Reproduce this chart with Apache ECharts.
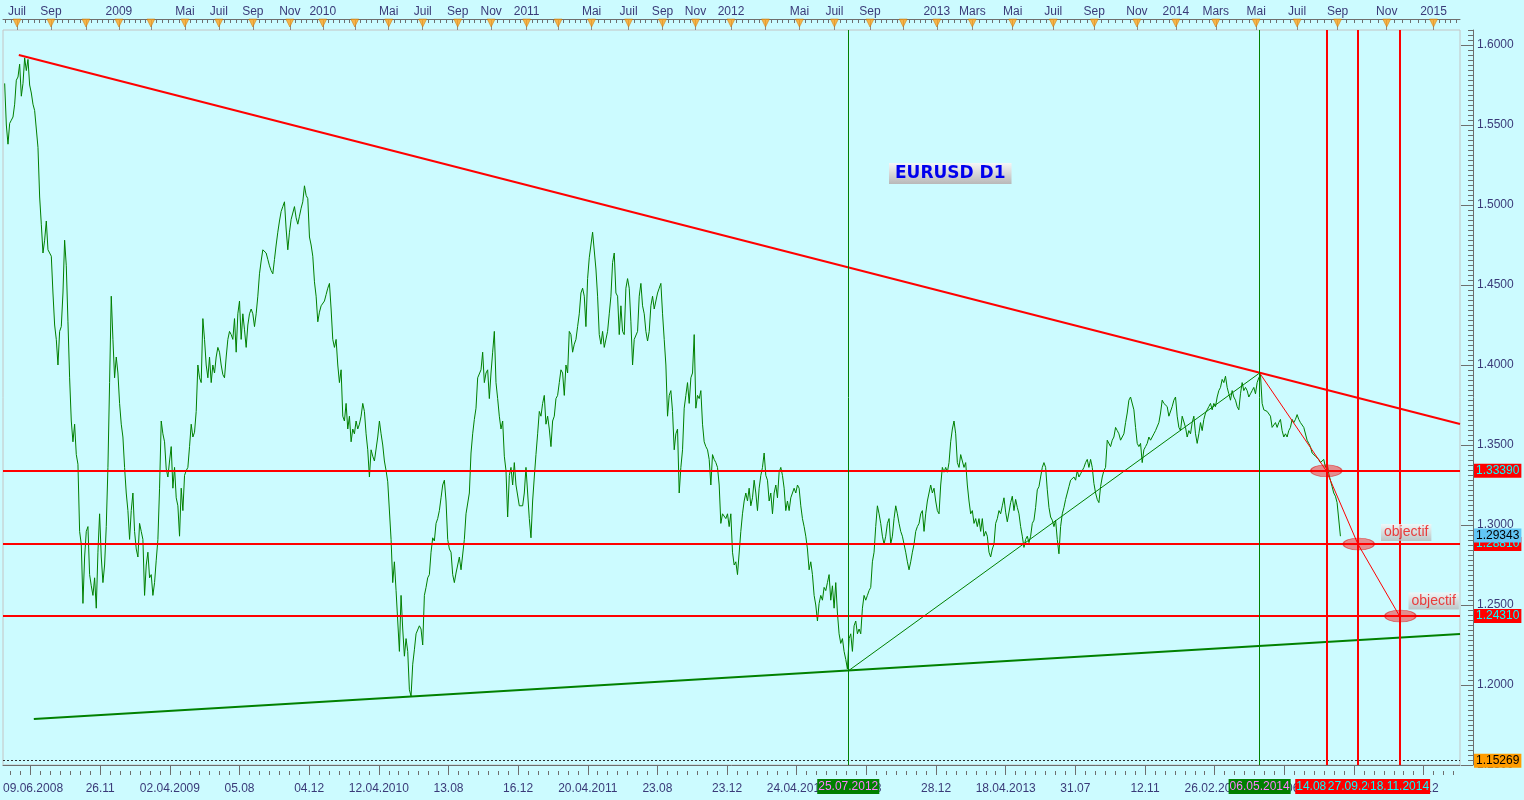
<!DOCTYPE html>
<html>
<head>
<meta charset="utf-8">
<script src="https://cdn.jsdelivr.net/npm/echarts@6/dist/echarts.min.js"></script>
<style>
html,body{margin:0;padding:0;background:#ccfbff;}
#chart{width:1524px;height:800px;}
</style>
</head>
<body>
<div id="chart"></div>
<script>
// ---------------- DATA ----------------
// Daily EURUSD closes, read every 2 bars from the picture (bar index = position on the MT4 time scale)
const firstBar = 2;
const barStep = 2;
const closesPart1 = [ // Jun 2008 - Jan 2010
1.576,1.550,1.538,1.551,1.553,1.555,1.563,1.578,1.580,1.588,1.568,1.576,1.592,1.584,1.591,1.575,1.570,1.563,1.559,1.558,
1.536,1.505,1.488,1.470,1.478,1.490,1.472,1.471,1.468,1.445,1.425,1.416,1.400,1.421,1.424,1.445,1.478,1.462,1.427,1.392,
1.365,1.352,1.363,1.344,1.338,1.296,1.288,1.251,1.280,1.296,1.299,1.269,1.262,1.256,1.267,1.248,1.283,1.307,1.280,1.264,
1.275,1.299,1.336,1.389,1.443,1.416,1.392,1.405,1.395,1.376,1.363,1.355,1.336,1.320,1.309,1.291,1.309,1.320,1.296,1.285,
1.280,1.301,1.296,1.291,1.256,1.275,1.283,1.267,1.269,1.256,1.264,1.278,1.291,1.323,1.365,1.357,1.352,1.335,1.330,1.340,
1.349,1.323,1.336,1.317,1.312,1.293,1.323,1.309,1.331,1.334,1.336,1.349,1.363,1.355,1.358,1.371,1.400,1.392,1.389,1.429,
1.416,1.400,1.392,1.405,1.389,1.400,1.395,1.405,1.411,1.408,1.400,1.394,1.392,1.405,1.416,1.421,1.419,1.416,1.429,1.408,
1.432,1.440,1.416,1.432,1.422,1.411,1.425,1.432,1.435,1.432,1.424,1.432,1.443,1.457,1.465,1.472,1.471,1.470,1.466,1.462,
1.459,1.457,1.466,1.475,1.483,1.490,1.496,1.499,1.502,1.485,1.472,1.483,1.491,1.495,1.499,1.492,1.488,1.493,1.498,1.502,
1.512,1.506,1.504,1.480,1.475,1.468,1.452,1.443,1.427,1.433,1.437,1.438,1.440,1.444,1.448,1.451,1.435,1.416,1.411
];
const closesPart2 = [ // Jan 2010 - Nov 2011
1.416,1.400,1.389,1.397,1.368,1.365,1.376,1.360,1.368,1.352,1.360,1.357,1.365,1.360,1.363,1.368,1.376,1.371,1.357,1.347,
1.330,1.347,1.343,1.340,1.341,1.355,1.365,1.357,1.350,1.340,1.334,1.327,1.328,1.291,1.264,1.277,1.259,1.240,1.221,1.256,
1.235,1.218,1.229,1.221,1.197,1.193,1.213,1.222,1.232,1.231,1.237,1.235,1.225,1.256,1.261,1.267,1.269,1.283,1.292,1.290,
1.301,1.304,1.309,1.317,1.325,1.328,1.315,1.291,1.285,1.283,1.269,1.264,1.270,1.271,1.280,1.272,1.271,1.291,1.307,1.307,
1.320,1.345,1.357,1.366,1.373,1.392,1.392,1.397,1.408,1.389,1.395,1.397,1.379,1.395,1.408,1.421,1.389,1.379,1.368,1.360,
1.365,1.343,1.334,1.305,1.331,1.336,1.325,1.339,1.325,1.325,1.312,1.311,1.312,1.320,1.336,1.336,1.304,1.292,1.315,1.330,
1.344,1.357,1.371,1.368,1.376,1.381,1.363,1.368,1.360,1.349,1.365,1.368,1.379,1.381,1.389,1.397,1.395,1.381,1.400,1.395,
1.421,1.419,1.408,1.413,1.416,1.424,1.432,1.445,1.448,1.443,1.424,1.454,1.467,1.475,1.483,1.483,1.460,1.443,1.419,1.413,
1.421,1.411,1.410,1.421,1.432,1.443,1.464,1.470,1.445,1.443,1.419,1.437,1.421,1.419,1.448,1.454,1.448,1.427,1.400,1.416,
1.416,1.421,1.443,1.451,1.437,1.432,1.421,1.415,1.421,1.437,1.443,1.435,1.440,1.445,1.448,1.451,1.432,1.416,1.400,1.368,
1.381
];
const closesPart3 = [ // Sep 2011 - Jun 2013
1.384,1.371,1.347,1.357,1.360,1.320,1.336,1.347,1.373,1.381,1.389,1.376,1.392,1.395,1.419,1.373,1.381,1.379,1.384,1.363,
1.352,1.349,1.347,1.341,1.325,1.344,1.341,1.339,1.336,1.325,1.301,1.307,1.307,1.304,1.307,1.299,1.307,1.283,1.275,1.277,
1.269,1.269,1.296,1.307,1.315,1.320,1.315,1.323,1.312,1.317,1.328,1.320,1.309,1.323,1.331,1.336,1.345,1.331,1.328,1.315,
1.320,1.307,1.320,1.325,1.317,1.333,1.336,1.331,1.323,1.309,1.315,1.309,1.317,1.320,1.323,1.320,1.325,1.323,1.312,1.304,
1.299,1.293,1.285,1.272,1.277,1.269,1.256,1.250,1.240,1.251,1.256,1.253,1.261,1.259,1.264,1.269,1.253,1.262,1.248,1.264,
1.245,1.232,1.226,1.229,1.221,1.216,1.210,1.229,1.232,1.221,1.237,1.240,1.232,1.235,1.232,1.248,1.256,1.253,1.256,1.259,
1.261,1.277,1.283,1.299,1.312,1.307,1.301,1.293,1.288,1.293,1.301,1.304,1.288,1.293,1.304,1.312,1.307,1.301,1.296,1.293,
1.288,1.283,1.277,1.272,1.277,1.283,1.288,1.296,1.299,1.301,1.307,1.309,1.296,1.307,1.315,1.320,1.325,1.320,1.323,1.315,
1.309,1.307,1.325,1.336,1.333,1.336,1.333,1.339,1.352,1.360,1.365,1.357,1.339,1.336,1.344,1.344,1.336,1.339,1.325,1.315,
1.307,1.309,1.301,1.304,1.299,1.304,1.296,1.304,1.293,1.296,1.293,1.283,1.280,1.285,1.288,1.301,1.304,1.309,1.307,1.312,
1.317
];
const closesPart4 = [ // Jun 2013 - Sep 2014
1.308,1.302,1.303,1.314,1.318,1.309,1.316,1.311,1.307,1.299,1.293,1.286,1.291,1.293,1.289,1.293,1.301,1.303,1.311,1.322,
1.324,1.330,1.336,1.339,1.336,1.322,1.311,1.305,1.303,1.299,1.303,1.291,1.282,1.299,1.307,1.311,1.316,1.320,1.324,1.328,
1.328,1.330,1.328,1.334,1.330,1.332,1.334,1.336,1.339,1.341,1.336,1.341,1.336,1.326,1.320,1.316,1.314,1.324,1.330,1.334,
1.336,1.353,1.353,1.349,1.353,1.355,1.361,1.359,1.357,1.353,1.355,1.357,1.364,1.370,1.378,1.380,1.380,1.372,1.361,1.351,
1.349,1.351,1.339,1.347,1.349,1.351,1.355,1.353,1.355,1.357,1.359,1.359,1.364,1.370,1.378,1.376,1.376,1.374,1.368,1.368,
1.374,1.378,1.380,1.368,1.361,1.359,1.368,1.368,1.361,1.355,1.359,1.357,1.364,1.368,1.357,1.351,1.357,1.364,1.359,1.366,
1.370,1.372,1.374,1.376,1.372,1.376,1.374,1.380,1.384,1.386,1.391,1.389,1.393,1.386,1.382,1.378,1.384,1.380,1.378,1.374,
1.372,1.382,1.389,1.384,1.386,1.384,1.380,1.382,1.384,1.386,1.382,1.389,1.392,1.394,1.376,1.372,1.372,1.371,1.370,1.368,
1.361,1.361,1.364,1.361,1.364,1.366,1.359,1.355,1.357,1.355,1.359,1.361,1.366,1.364,1.366,1.369,1.366,1.364,1.364,1.361,
1.361,1.353,1.351,1.349,1.345,1.345,1.343,1.344,1.341,1.339,1.339,1.341,1.336,1.339,1.332,1.328,1.324,1.320,1.318,1.314,
1.314,1.293
];

// Axis extent (bars / price)
const xMaxBar = 1749.6;
const yMinPrice = 1.15;
const yMaxPrice = 1.609375;

// Bottom date scale
const chartStartBar = 0;
const chartStartLabel = '09.06.2008';
const bottomTickStart = 33.1;
const bottomTickStep = 83.64;
const bottomTickLabels = ['', '26.11', '02.04.2009', '05.08', '04.12', '12.04.2010', '13.08', '16.12', '20.04.2011', '23.08', '23.12',
  '24.04.2012', '24.08', '28.12', '18.04.2013', '31.07', '12.11', '26.02.2014', '25.06', '16.10', '19.12'];

// Top month scale (first bar of every second month)
const monthStartBars = [16.8, 57.6, 99.6, 139.2, 177.6, 218.4, 259.2, 300, 344.4, 384, 422.4, 463.2, 504, 546, 586.2, 628.8,
  666.6, 706.8, 751.2, 792, 831.6, 874.2, 915.6, 956.4, 998.4, 1041.1, 1081, 1121.3, 1164, 1212.5, 1261.2, 1310.4, 1361.6,
  1408.4, 1456.3, 1504.8, 1554, 1602.6, 1661.6, 1717.8];
const monthLabels = ['Juil', 'Sep', '', '2009', '', 'Mai', 'Juil', 'Sep', 'Nov', '2010', '', 'Mai', 'Juil', 'Sep', 'Nov', '2011',
  '', 'Mai', 'Juil', 'Sep', 'Nov', '2012', '', 'Mai', 'Juil', 'Sep', '', '2013', 'Mars', 'Mai', 'Juil', 'Sep', 'Nov', '2014',
  'Mars', 'Mai', 'Juil', 'Sep', 'Nov', '2015'];

// Price scale labels
const priceTickValues = [1.15, 1.20, 1.25, 1.30, 1.35, 1.40, 1.45, 1.50, 1.55, 1.60];
const priceMinorStep = 0.003125;

// Horizontal levels
const levelPrices = [1.33390, 1.28810, 1.24310];
const lowestPrice = 1.15269;
const bidPrice = 1.29343;

// Vertical lines
const vlineDates = ['25.07.2012', '06.05.2014', '14.08.2014', '27.09.2014', '18.11.2014'];
const vlineBars = [1015, 1509, 1589, 1627, 1677];
const vlineKinds = ['pivot', 'pivot', 'target', 'target', 'target'];

// Trend lines [bar, price]
const resistanceLine = [[19, 1.5938], [1749.6, 1.3631]];
const supportLine = [[37, 1.1788], [1749.6, 1.2319]];
const riseLine = [[1015, 1.2088], [1509, 1.3950]];
const fallPath = [[1509, 1.3950], [1589, 1.3339], [1627, 1.2881], [1677, 1.2431]];
const ellipseCenters = [[1589, 1.3339], [1628, 1.2881], [1678, 1.2431]];
const objectifPoints = [[1685, 1.2953], [1718, 1.2525]];
const chartTitle = 'EURUSD D1';

// ---------------- BUILD ----------------
const FONT = 'Liberation Sans';
const AXIS_TXT = '#3a3a78';
const FRAME = '#6e6e6e';

const closes = [].concat(closesPart1, closesPart2, closesPart3, closesPart4);
const priceData = closes.map((v, i) => [firstBar + i * barStep, v]);

const bottomTickBars = bottomTickLabels.map((_, k) => bottomTickStart + k * bottomTickStep);
const bottomLabelBars = [chartStartBar].concat(bottomTickBars.filter((_, k) => bottomTickLabels[k] !== ''));
const bottomMinor = [];
for (let k = -1; k < bottomTickBars.length; k++) {
  const a = bottomTickStart + k * bottomTickStep;
  for (let j = 1; j < 7; j++) {
    const v = a + bottomTickStep * j / 7;
    if (v > 0 && v < xMaxBar) bottomMinor.push(v);
  }
}
function bottomText(v) {
  if (Math.abs(v - chartStartBar) < 0.5) return chartStartLabel;
  const k = Math.round((v - bottomTickStart) / bottomTickStep);
  return bottomTickLabels[k] || '';
}

const topLabelBars = monthStartBars.filter((_, i) => monthLabels[i] !== '');
function topText(v) {
  const i = monthStartBars.findIndex(b => Math.abs(b - v) < 0.5);
  return i >= 0 ? monthLabels[i] : '';
}
const topMinor = [];
for (let i = 0; i < monthStartBars.length - 1; i++) {
  const a = monthStartBars[i], b = monthStartBars[i + 1];
  for (let j = 1; j < 6; j++) topMinor.push(a + (b - a) * j / 6);
}
{
  const d = (monthStartBars[1] - monthStartBars[0]) / 6;
  for (let v = monthStartBars[0] - d; v > 0; v -= d) topMinor.push(v);
  const last = monthStartBars[monthStartBars.length - 1];
  for (let v = last + d; v < xMaxBar; v += d) topMinor.push(v);
}

const priceMinor = [];
for (let v = yMinPrice; v <= yMaxPrice + 1e-9; v += priceMinorStep) priceMinor.push(+v.toFixed(6));

const greyGrad = () => new echarts.graphic.LinearGradient(0, 0, 0, 1, [
  {offset: 0, color: '#f6f6f6'}, {offset: 1, color: '#b8b8b8'}]);

const kindStyle = {
  pivot: {color: '#008000', width: 1, text: '#ff7fff'},
  target: {color: '#ff0000', width: 2, text: '#00ffff'}
};

const levelLabel = (bg, fg) => ({
  show: true, position: 'end', distance: 14, backgroundColor: bg, color: fg,
  padding: [1, 2], fontFamily: FONT, fontSize: 12, lineHeight: 12
});

const hLines = levelPrices.map(p => ({
  yAxis: p, lineStyle: {color: '#ff0000', width: 2, type: 'solid'},
  label: Object.assign(levelLabel('#ff0000', '#00ffff'), {formatter: p.toFixed(5)})
}));
hLines.push({
  yAxis: lowestPrice, lineStyle: {color: '#303030', width: 1, type: [2, 2]},
  label: Object.assign(levelLabel('#ff9c00', '#000000'), {formatter: lowestPrice.toFixed(5)})
});
hLines.push({
  yAxis: bidPrice, lineStyle: {color: 'rgba(0,0,0,0)', width: 1, type: 'solid'},
  label: Object.assign(levelLabel('#62c6f6', '#000000'), {formatter: bidPrice.toFixed(5)})
});

const vLines = vlineBars.map((b, i) => {
  const s = kindStyle[vlineKinds[i]];
  return {
    xAxis: b, lineStyle: {color: s.color, width: s.width, type: 'solid'},
    label: {show: true, position: 'start', distance: 14, formatter: vlineDates[i],
      backgroundColor: s.color, color: s.text, padding: [1, 1], fontFamily: FONT, fontSize: 12, lineHeight: 13}
  };
});

const chart = echarts.init(document.getElementById('chart'), null, {renderer: 'canvas'});
chart.setOption({
  animation: false,
  backgroundColor: '#ccfbff',
  textStyle: {fontFamily: FONT},
  title: {
    text: chartTitle, left: 889, top: 163, padding: [1, 6],
    backgroundColor: greyGrad(),
    textStyle: {color: '#0000ee', fontFamily: 'DejaVu Sans', fontWeight: 'bold', fontSize: 17, lineHeight: 19}
  },
  grid: {left: 2, right: 64, top: 30, bottom: 35, show: true, backgroundColor: 'transparent',
    borderColor: '#c4c4c4', borderWidth: 1},
  xAxis: [
    {type: 'value', min: 0, max: xMaxBar, position: 'bottom',
      axisLine: {show: true, onZero: false, lineStyle: {color: FRAME, width: 1}},
      axisTick: {show: true, customValues: bottomTickBars, length: 10, lineStyle: {color: FRAME}},
      axisLabel: {show: true, customValues: bottomLabelBars, formatter: bottomText, margin: 18,
        color: AXIS_TXT, fontFamily: FONT, fontSize: 12, alignMinLabel: 'left', hideOverlap: false},
      splitLine: {show: false}},
    {type: 'value', min: 0, max: xMaxBar, position: 'top', offset: 11,
      axisLine: {show: true, onZero: false, lineStyle: {color: FRAME, width: 1}},
      axisTick: {show: true, inside: true, customValues: monthStartBars, length: 11, lineStyle: {color: '#8a8a8a'}},
      axisLabel: {show: true, customValues: topLabelBars, formatter: topText, margin: 1,
        color: AXIS_TXT, fontFamily: FONT, fontSize: 12, hideOverlap: false},
      splitLine: {show: false}},
    {type: 'value', min: 0, max: xMaxBar, position: 'top', offset: 11,
      axisLine: {show: false, onZero: false},
      axisTick: {show: true, inside: true, customValues: topMinor, length: 4, lineStyle: {color: FRAME}},
      axisLabel: {show: false}, splitLine: {show: false}},
    {type: 'value', min: 0, max: xMaxBar, position: 'bottom', offset: 6,
      axisLine: {show: false, onZero: false},
      axisTick: {show: true, customValues: bottomMinor, length: 4, lineStyle: {color: FRAME}},
      axisLabel: {show: false}, splitLine: {show: false}}
  ],
  yAxis: [
    {type: 'value', min: yMinPrice, max: yMaxPrice, position: 'right', offset: 13,
      axisLine: {show: true, onZero: false, lineStyle: {color: FRAME, width: 1}},
      axisTick: {show: true, inside: true, customValues: priceTickValues, length: 12, lineStyle: {color: FRAME}},
      axisLabel: {show: true, customValues: priceTickValues, formatter: v => v.toFixed(4), margin: 4,
        color: AXIS_TXT, fontFamily: FONT, fontSize: 12},
      splitLine: {show: false}},
    {type: 'value', min: yMinPrice, max: yMaxPrice, position: 'right', offset: 13,
      axisLine: {show: false, onZero: false},
      axisTick: {show: true, inside: true, customValues: priceMinor, length: 5, lineStyle: {color: FRAME}},
      axisLabel: {show: false}, splitLine: {show: false}}
  ],
  series: [
    {name: 'EURUSD', type: 'line', data: priceData, symbol: 'none', z: 3,
      lineStyle: {color: '#008000', width: 1}},
    {name: 'resistance', type: 'line', data: resistanceLine, symbol: 'none', z: 4,
      lineStyle: {color: '#ff0000', width: 2},
      markLine: {silent: true, symbol: ['none', 'none'], animation: false, precision: 5, data: hLines}},
    {name: 'support', type: 'line', data: supportLine, symbol: 'none', z: 4,
      lineStyle: {color: '#008000', width: 2},
      markLine: {silent: true, symbol: ['none', 'none'], animation: false, precision: 5, data: vLines}},
    {name: 'rise', type: 'line', data: riseLine, symbol: 'none', z: 4,
      lineStyle: {color: '#008000', width: 1}},
    {name: 'fall', type: 'line', data: fallPath, symbol: 'none', z: 4,
      lineStyle: {color: '#ff0000', width: 1}},
    {name: 'ellipses', type: 'scatter', data: ellipseCenters, symbol: 'circle', symbolSize: [31, 12], z: 6,
      itemStyle: {color: 'rgba(255,0,0,0.55)', borderColor: 'rgba(225,0,0,0.7)', borderWidth: 1}},
    {name: 'objectif', type: 'scatter', data: objectifPoints, symbol: 'rect', symbolSize: 1, z: 7,
      itemStyle: {color: 'rgba(0,0,0,0)'},
      label: {show: true, position: 'inside', formatter: 'objectif', color: '#ee1111', fontFamily: FONT,
        fontSize: 14, lineHeight: 15, padding: [1, 3], backgroundColor: greyGrad()}},
    {name: 'months', type: 'scatter', xAxisIndex: 1, data: monthStartBars.map(b => [b, yMaxPrice]),
      symbol: 'path://M0,0L10,0L5,9Z', symbolSize: [8, 8], symbolOffset: [0, -7], clip: false, z: 10,
      itemStyle: {color: '#ffa21c', borderColor: '#c87400', borderWidth: 0.6}}
  ]
});
</script>
</body>
</html>
